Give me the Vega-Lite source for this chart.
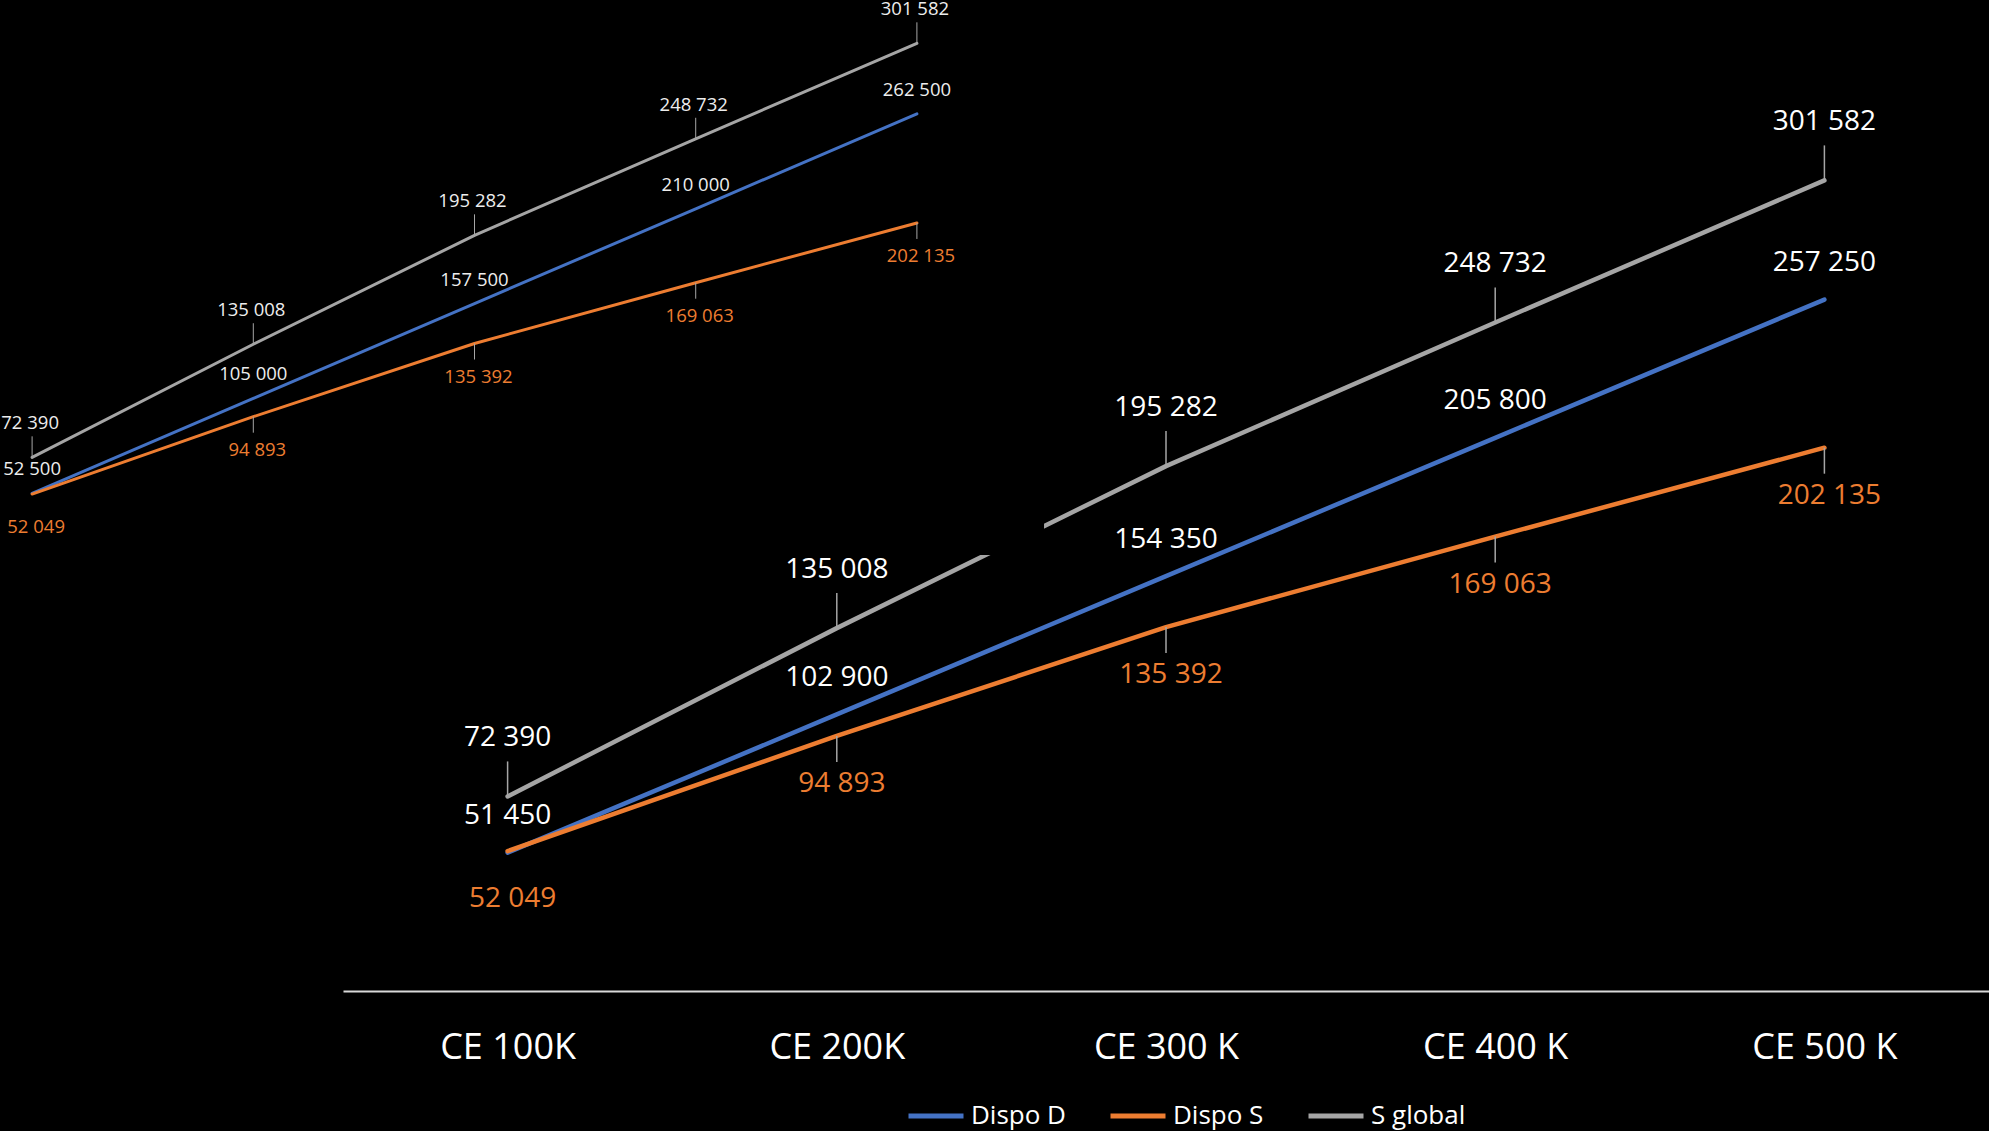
{
  "$schema": "https://vega.github.io/schema/vega-lite/v6.json",
  "background": "#000000",
  "autosize": {"type": "none"},
  "padding": {"left": 343, "top": 0, "right": 0, "bottom": 140},
  "width": 1646,
  "height": 991,
  "config": {"view": {"stroke": null}, "font": "Open Sans"},
  "datasets": {
    "main": [
      {"cat": "CE 100K", "series": "Dispo D", "v": 51450},
      {"cat": "CE 200K", "series": "Dispo D", "v": 102900},
      {"cat": "CE 300 K", "series": "Dispo D", "v": 154350},
      {"cat": "CE 400 K", "series": "Dispo D", "v": 205800},
      {"cat": "CE 500 K", "series": "Dispo D", "v": 257250},
      {"cat": "CE 100K", "series": "Dispo S", "v": 52049},
      {"cat": "CE 200K", "series": "Dispo S", "v": 94893},
      {"cat": "CE 300 K", "series": "Dispo S", "v": 135392},
      {"cat": "CE 400 K", "series": "Dispo S", "v": 169063},
      {"cat": "CE 500 K", "series": "Dispo S", "v": 202135},
      {"cat": "CE 100K", "series": "S global", "v": 72390},
      {"cat": "CE 200K", "series": "S global", "v": 135008},
      {"cat": "CE 300 K", "series": "S global", "v": 195282},
      {"cat": "CE 400 K", "series": "S global", "v": 248732},
      {"cat": "CE 500 K", "series": "S global", "v": 301582}
    ],
    "inset": [
      {"cat": "CE 100K", "k": 1, "series": "Dispo D", "v": 52500},
      {"cat": "CE 200K", "k": 2, "series": "Dispo D", "v": 105000},
      {"cat": "CE 300 K", "k": 3, "series": "Dispo D", "v": 157500},
      {"cat": "CE 400 K", "k": 4, "series": "Dispo D", "v": 210000},
      {"cat": "CE 500 K", "k": 5, "series": "Dispo D", "v": 262500},
      {"cat": "CE 100K", "k": 1, "series": "Dispo S", "v": 52049},
      {"cat": "CE 200K", "k": 2, "series": "Dispo S", "v": 94893},
      {"cat": "CE 300 K", "k": 3, "series": "Dispo S", "v": 135392},
      {"cat": "CE 400 K", "k": 4, "series": "Dispo S", "v": 169063},
      {"cat": "CE 500 K", "k": 5, "series": "Dispo S", "v": 202135},
      {"cat": "CE 100K", "k": 1, "series": "S global", "v": 72390},
      {"cat": "CE 200K", "k": 2, "series": "S global", "v": 135008},
      {"cat": "CE 300 K", "k": 3, "series": "S global", "v": 195282},
      {"cat": "CE 400 K", "k": 4, "series": "S global", "v": 248732},
      {"cat": "CE 500 K", "k": 5, "series": "S global", "v": 301582}
    ]
  },
  "layer": [
    {
      "data": {"name": "main"},
      "encoding": {
        "x": {
          "field": "cat",
          "type": "ordinal",
          "sort": ["CE 100K", "CE 200K", "CE 300 K", "CE 400 K", "CE 500 K"],
          "scale": {"type": "point", "padding": 0.5},
          "axis": {
            "title": null,
            "labelAngle": 0,
            "ticks": false,
            "tickSize": 0,
            "grid": false,
            "domainColor": "#D9D9D9",
            "domainWidth": 2,
            "labelColor": "#FFFFFF",
            "labelFont": "Open Sans",
            "labelFontSize": 36,
            "labelPadding": 39
          }
        },
        "y": {
          "field": "v",
          "type": "quantitative",
          "scale": {"domain": [0, 368700], "nice": false, "zero": false},
          "axis": null
        }
      },
      "layer": [
        {
          "mark": {"type": "line", "strokeWidth": 4.5, "strokeCap": "round", "strokeJoin": "round"},
          "encoding": {
            "color": {
              "field": "series",
              "type": "nominal",
              "scale": {"domain": ["Dispo D", "Dispo S", "S global"], "range": ["#4472C4", "#ED7D31", "#A5A5A5"]},
              "legend": {
                "title": null,
                "orient": "none",
                "legendX": 563,
                "legendY": 1086,
                "direction": "horizontal",
                "symbolType": "stroke",
                "symbolSize": 3025,
                "symbolStrokeWidth": 5,
                "labelColor": "#FFFFFF",
                "labelFont": "Open Sans",
                "labelFontSize": 26,
                "labelOffset": 5,
                "labelLimit": 0,
                "columnPadding": 34,
                "padding": 0
              }
            }
          }
        },
        {
          "transform": [{"filter": "datum.series == 'S global'"}],
          "mark": {"type": "rule", "y2Offset": -35, "stroke": "#A6A6A6", "strokeWidth": 1.5},
          "encoding": {"y2": {"field": "v"}}
        },
        {
          "transform": [{"filter": "datum.series == 'Dispo S' && datum.cat != 'CE 100K'"}],
          "mark": {"type": "rule", "y2Offset": 26, "stroke": "#A6A6A6", "strokeWidth": 1.5},
          "encoding": {"y2": {"field": "v"}}
        },
        {
          "transform": [{"filter": "datum.series == 'S global'"}],
          "mark": {"type": "text", "font": "Open Sans", "fontSize": 28, "fill": "#FFFFFF", "align": "center", "baseline": "middle", "dy": -58, "text": {"expr": "replace(format(datum.v, ','), ',', ' ')"}}
        },
        {
          "transform": [{"filter": "datum.series == 'Dispo D'"}],
          "mark": {"type": "text", "font": "Open Sans", "fontSize": 28, "fill": "#FFFFFF", "align": "center", "baseline": "middle", "dy": -36.5, "text": {"expr": "replace(format(datum.v, ','), ',', ' ')"}}
        },
        {
          "transform": [{"filter": "datum.series == 'Dispo S'"}],
          "mark": {"type": "text", "font": "Open Sans", "fontSize": 28, "fill": "#ED7D31", "align": "center", "baseline": "middle", "dy": 48, "dx": 5, "text": {"expr": "replace(format(datum.v, ','), ',', ' ')"}}
        }
      ]
    },
    {
      "data": {"name": "inset"},
      "encoding": {
        "x": {
          "field": "k",
          "type": "quantitative",
          "scale": {"domain": [2.4055, 9.8467], "nice": false, "zero": false},
          "axis": null
        },
        "y": {
          "field": "v",
          "type": "quantitative",
          "scale": {"domain": [-223040, 325565], "nice": false, "zero": false},
          "axis": null
        }
      },
      "layer": [
        {
          "transform": [{"filter": "datum.k == 1 && datum.series == 'S global'"}],
          "mark": {"type": "rect", "fill": "#000000", "stroke": null, "opacity": 1},
          "encoding": {
            "x": {"datum": 0.8, "type": "quantitative"},
            "x2": {"datum": 5.5747},
            "y": {"datum": 18324, "type": "quantitative"},
            "y2": {"datum": 330000}
          }
        },
        {
          "mark": {"type": "line", "strokeWidth": 3, "strokeCap": "round", "strokeJoin": "round"},
          "encoding": {
            "color": {
              "field": "series",
              "type": "nominal",
              "scale": {"domain": ["Dispo D", "Dispo S", "S global"], "range": ["#4472C4", "#ED7D31", "#A5A5A5"]}
            }
          }
        },
        {
          "transform": [{"filter": "datum.series == 'S global'"}],
          "mark": {"type": "rule", "y2Offset": -21, "stroke": "#A6A6A6", "strokeWidth": 1},
          "encoding": {"y2": {"field": "v"}}
        },
        {
          "transform": [{"filter": "datum.series == 'Dispo S' && datum.k != 1"}],
          "mark": {"type": "rule", "y2Offset": 16, "stroke": "#A6A6A6", "strokeWidth": 1},
          "encoding": {"y2": {"field": "v"}}
        },
        {
          "transform": [{"filter": "datum.series == 'S global'"}],
          "mark": {"type": "text", "font": "Open Sans", "fontSize": 18.5, "fill": "#EDEDED", "align": "center", "baseline": "middle", "dy": -34, "dx": -2, "text": {"expr": "replace(format(datum.v, ','), ',', ' ')"}}
        },
        {
          "transform": [{"filter": "datum.series == 'Dispo D'"}],
          "mark": {"type": "text", "font": "Open Sans", "fontSize": 18.5, "fill": "#EDEDED", "align": "center", "baseline": "middle", "dy": -24, "text": {"expr": "replace(format(datum.v, ','), ',', ' ')"}}
        },
        {
          "transform": [{"filter": "datum.series == 'Dispo S'"}],
          "mark": {"type": "text", "font": "Open Sans", "fontSize": 18.5, "fill": "#ED7D31", "align": "center", "baseline": "middle", "dy": 33, "dx": 4, "text": {"expr": "replace(format(datum.v, ','), ',', ' ')"}}
        }
      ]
    }
  ],
  "resolve": {"scale": {"x": "independent", "y": "independent"}}
}
